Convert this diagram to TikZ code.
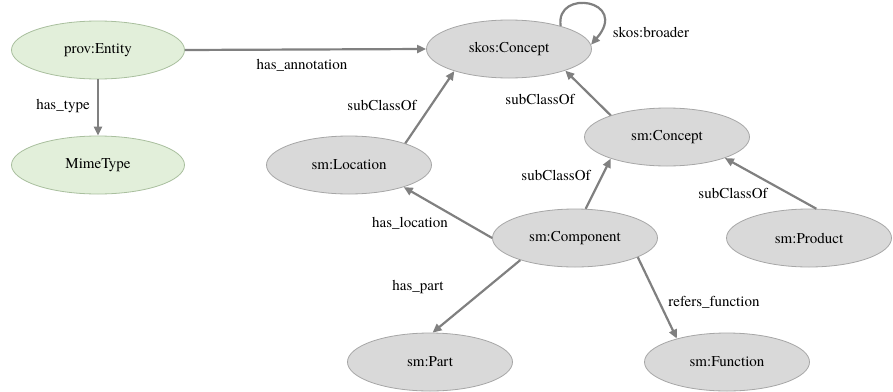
\documentclass[tikz,border=0pt]{standalone}
\usepackage{fontspec}
\setmainfont{texgyretermes}[Extension=.otf, UprightFont=*-regular]
\usetikzlibrary{arrows.meta,shapes.geometric}

\definecolor{nodegray}{HTML}{D9D9D9}
\definecolor{nodeline}{HTML}{A6A6A6}
\definecolor{provgreen}{HTML}{E2EFDA}
\definecolor{provline}{HTML}{A9BF9E}
\definecolor{edgegray}{HTML}{808080}

\tikzset{
  cls/.style = {draw=nodeline, fill=nodegray, ellipse, line width=0.8pt,
    minimum width=165pt, minimum height=58pt, inner sep=0pt},
  prov/.style = {cls, draw=provline, fill=provgreen, minimum width=173pt},
  rel/.style = {draw=edgegray, line width=2.2pt,
    -{Triangle[length=9pt,width=8pt]}},
  lbl/.style = {inner sep=0pt}
}

\begin{document}
\begin{tikzpicture}[x=1pt, y=-1pt, font=\fontsize{15}{18}\selectfont]
\useasboundingbox (0,0) rectangle (893,391);

\node[prov] (entity) at (98,50) {prov:Entity};
\node[prov] (mime) at (98,165) {MimeType};
\node[cls] (skos) at (509,49) {skos:Concept};
\node[cls] (smconcept) at (667,137) {sm:Concept};
\node[cls] (location) at (349,165) {sm:Location};
\node[cls] (component) at (575,238) {sm:Component};
\node[cls] (product) at (809,238) {sm:Product};
\node[cls] (part) at (430,362) {sm:Part};
\node[cls] (function) at (727,362) {sm:Function};

\draw[rel] (entity.east) -- (skos.west);
\draw[rel] (entity.south) -- (mime.north);
\draw[rel] (skos.24) .. controls (555,-12) and (630,0) .. (skos.3);
\draw[rel] (location.21) -- (skos.202);
\draw[rel] (smconcept.159) -- (skos.-21);
\draw[rel] (component.70) -- (smconcept.201);
\draw[rel] (product.76) -- (smconcept.-20);
\draw[rel] (component.180) -- (location.-22);
\draw[rel] (component.202) -- (part.85);
\draw[rel] (component.-17) -- (function.155);

\node[lbl] (l_annot) at (302,65) {has\_annotation};
\node[lbl] (l_type) at (63,106) {has\_type};
\node[lbl] (l_broader) at (651,32) {skos:broader};
\node[lbl] (l_sub1) at (382,105) {subClassOf};
\node[lbl] (l_sub2) at (540,99) {subClassOf};
\node[lbl] (l_sub3) at (556,175) {subClassOf};
\node[lbl] (l_sub4) at (733,193) {subClassOf};
\node[lbl] (l_loc) at (410,223) {has\_location};
\node[lbl] (l_part) at (418,287) {has\_part};
\node[lbl] (l_func) at (714,302) {refers\_function};
\end{tikzpicture}
\end{document}
